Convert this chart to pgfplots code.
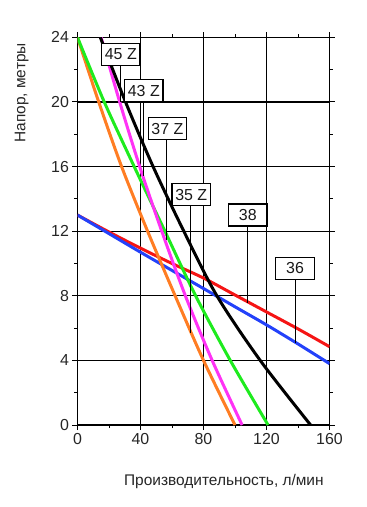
\documentclass[border=0pt]{standalone}
\usepackage{pgfplots}
\pgfplotsset{compat=1.18}
\usepackage{fontspec}
\setmainfont{Liberation Sans}
\definecolor{cOr}{RGB}{255,125,35}
\definecolor{cPk}{RGB}{255,50,245}
\definecolor{cGr}{RGB}{30,235,30}
\definecolor{cRd}{RGB}{245,20,20}
\definecolor{cBl}{RGB}{35,65,250}
\begin{document}
\begin{tikzpicture}
\path[use as bounding box] (-77.5bp,-82bp) rectangle (289.5bp,425bp);
\begin{axis}[
  at={(0,0)}, anchor=south west,
  scale only axis,
  width=252bp, height=387.6bp,
  xmin=0,xmax=160,ymin=0,ymax=24,
  xtick={0,40,...,160}, ytick={0,4,...,24},
  minor xtick={20,60,100,140}, minor ytick={2,6,...,22},
  tick align=outside,
  major tick length=5bp, minor tick length=3bp,
  grid=major,
  major grid style={black, line width=1.2bp},
  axis line style={black, line width=1.2bp},
  every tick/.style={black, line width=1bp},
  tick label style={font=\fontsize{16}{18}\selectfont, text=black!85},
  /pgf/number format/assume math mode=true,
  xlabel={Производительность, л/мин},
  ylabel={Напор, метры},
  label style={font=\fontsize{15.5}{18}\selectfont, text=black!85},
  xlabel style={at={(axis description cs:0.581,-0.147)}, anchor=center},
  ylabel style={at={(axis description cs:-0.222,0.857)}, anchor=center},
  clip=true,
]
\addplot[cRd, line width=3bp, smooth] coordinates {(0,13)(20,11.95)(40,10.95)(60,10.0)(80,9.1)(100,8.05)(120,7.0)(140,5.95)(160,4.85)};
\addplot[cBl, line width=3bp, smooth] coordinates {(0,13)(20,11.85)(40,10.7)(60,9.57)(80,8.45)(100,7.32)(120,6.2)(140,5.02)(160,3.8)};
\addplot[cOr, line width=3bp, smooth] coordinates {(0,24)(13.5,20)(28,16)(44.5,12)(62,8)(80,4)(100,0)};
\addplot[cGr, line width=3bp, smooth] coordinates {(0,24)(17,20)(36,16)(55.5,12)(75,8)(97,4)(121,0)};
\addplot[cPk, line width=3bp, smooth] coordinates {(15,24)(26.8,20)(39.5,16)(53.5,12)(68.5,8)(85.5,4)(104.5,0)};
\addplot[black, line width=3bp, smooth] coordinates {(14.5,24)(30.5,20)(48,16)(67.5,12)(88.5,8)(116,4)(148,0)};
\draw[black, line width=1bp] (axis cs:27.6,22.96) -- (axis cs:27.6,20.0);
\draw[black, line width=1bp] (axis cs:41.8,20.7) -- (axis cs:41.8,15.4);
\draw[black, line width=1bp] (axis cs:56.2,18.35) -- (axis cs:56.2,11.46);
\draw[black, line width=1bp] (axis cs:71.9,14.27) -- (axis cs:71.9,5.7);
\draw[black, line width=1bp] (axis cs:107.8,13.0) -- (axis cs:107.8,7.57);
\draw[black, line width=1bp] (axis cs:138.1,9.7) -- (axis cs:138.1,5.06);
\tikzset{cl/.style={draw=black, line width=1.2bp, fill=white, text=black!90, font=\fontsize{16}{18}\selectfont, inner sep=0pt, minimum width=38.5bp, minimum height=22bp}}
\node[cl] at (axis cs:27.5,22.96) {45 Z};
\node[cl] at (axis cs:42.1,20.7) {43 Z};
\node[cl] at (axis cs:57.1,18.35) {37 Z};
\node[cl] at (axis cs:72.2,14.27) {35 Z};
\node[cl] at (axis cs:108.1,13.0) {38};
\node[cl] at (axis cs:138.1,9.7) {36};
\end{axis}
\end{tikzpicture}
\end{document}
